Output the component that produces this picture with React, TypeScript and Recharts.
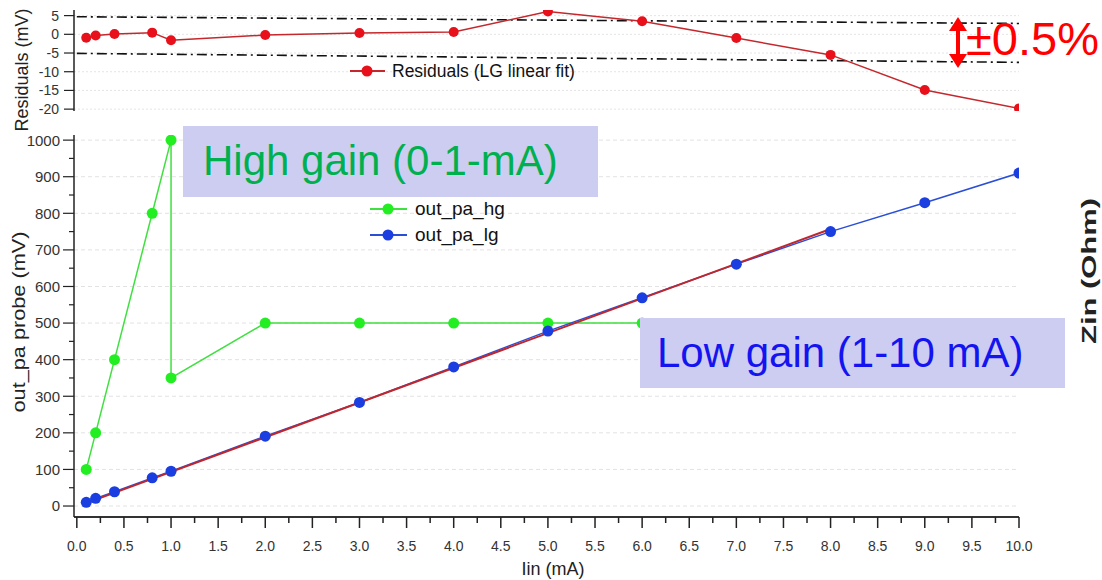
import React from 'react';
import { LineChart, Line, XAxis, YAxis, CartesianGrid, Legend } from 'recharts';

const W = 1102;
const H = 580;
const FONT = '"Liberation Sans", Arial, sans-serif';

// ---------- Residuals panel ----------
const resX = [0.1, 0.2, 0.4, 0.8, 1.0, 2.0, 3.0, 4.0, 5.0, 6.0, 7.0, 8.0, 9.0, 10.0];
const resY = [-0.9, -0.3, 0.1, 0.45, -1.6, -0.2, 0.35, 0.6, 6.1, 3.5, -1.0, -5.5, -14.9, -19.8];
const bandX = [0, 10];
const bandUpper = [4.7, 2.9];
const bandLower = [-5.1, -7.5];
const resTicks = [5, 0, -5, -10, -15, -20];

// ---------- Main panel ----------
const hgX = [0.1, 0.2, 0.4, 0.8, 1.0, 1.0, 2.0, 3.0, 4.0, 5.0, 6.0];
const hgY = [100, 200, 400, 800, 1000, 350, 500, 500, 500, 500, 500];
const lgX = [0.1, 0.2, 0.4, 0.8, 1.0, 2.0, 3.0, 4.0, 5.0, 6.0, 7.0, 8.0, 9.0, 10.0];
const lgY = [10, 21, 39, 77, 95, 191, 283, 380, 478, 569, 661, 750, 829, 910];
const fitX = [0.1, 8.0];
const fitY = [8, 757];

const xTicks = [0, 0.25, 0.5, 0.75, 1, 1.25, 1.5, 1.75, 2, 2.25, 2.5, 2.75, 3, 3.25, 3.5, 3.75, 4, 4.25, 4.5, 4.75, 5, 5.25, 5.5, 5.75, 6, 6.25, 6.5, 6.75, 7, 7.25, 7.5, 7.75, 8, 8.25, 8.5, 8.75, 9, 9.25, 9.5, 9.75, 10];
const yTicks = [0, 50, 100, 150, 200, 250, 300, 350, 400, 450, 500, 550, 600, 650, 700, 750, 800, 850, 900, 950, 1000];
const yGrid = [0, 100, 200, 300, 400, 500, 600, 700, 800, 900, 1000];

const zip = (xs: number[], ys: number[]) => xs.map((x, i) => ({ x, y: ys[i] }));

const resData = zip(resX, resY);
const upperData = zip(bandX, bandUpper);
const lowerData = zip(bandX, bandLower);
const hgData = zip(hgX, hgY);
const lgData = zip(lgX, lgY);
const fitData = zip(fitX, fitY);

const X_DOMAIN: [number, number] = [-0.03, 10];

const XTick = (props: any) => {
  const { x, y, payload } = props;
  const v = payload.value as number;
  const major = Math.abs(v * 2 - Math.round(v * 2)) < 1e-6;
  return (
    <g>
      <line x1={x} x2={x} y1={y} y2={y + (major ? 11 : 6)} stroke="#222" strokeWidth={1.5} />
      {major && (
        <text x={x} y={y + 34} textAnchor="middle" fontSize={14} fill="#333" fontFamily={FONT}>
          {v.toFixed(1)}
        </text>
      )}
    </g>
  );
};

const YTick = (props: any) => {
  const { x, y, payload } = props;
  const v = payload.value as number;
  const major = v % 100 === 0;
  return (
    <g>
      <line x1={x} x2={x - (major ? 11 : 5)} y1={y} y2={y} stroke="#222" strokeWidth={1.2} />
      {major && (
        <text x={x - 14} y={y} dy="0.36em" textAnchor="end" fontSize={15} fill="#333" fontFamily={FONT}>
          {v}
        </text>
      )}
    </g>
  );
};

const ResTick = (props: any) => {
  const { x, y, payload } = props;
  return (
    <g>
      <line x1={x} x2={x - 10} y1={y} y2={y} stroke="#222" strokeWidth={1.2} />
      <text x={x - 15} y={y} dy="0.36em" textAnchor="end" fontSize={14} fill="#333" fontFamily={FONT}>
        {payload.value}
      </text>
    </g>
  );
};

const makeLegend = (fontSize: number, rowH: number, iconW: number, gap: number, dotColors: Record<string, string>) =>
  (props: any) => {
    const items = (props.payload || []).filter((p: any) => p.type !== 'none');
    return (
      <div style={{ fontFamily: FONT, fontSize, color: '#111' }}>
        {items.map((p: any) => (
          <div key={p.value} style={{ display: 'flex', alignItems: 'center', height: rowH, whiteSpace: 'nowrap' }}>
            <svg width={iconW} height={14} style={{ display: 'block' }}>
              <line x1={2} x2={iconW - 1} y1={7} y2={7} stroke={p.color} strokeWidth={2} />
              <circle cx={iconW / 2} cy={7} r={5.5} fill={dotColors[p.value] || p.color} />
            </svg>
            <span style={{ marginLeft: gap }}>{p.value}</span>
          </div>
        ))}
      </div>
    );
  };

const ResLegend = makeLegend(17.5, 22, 38, 6, { 'Residuals (LG linear fit)': '#e8101a' });
const MainLegend = makeLegend(19, 26, 40, 7, { out_pa_hg: '#22ee22', out_pa_lg: '#1a3ee0' });

export default function App() {
  return (
    <div style={{ position: 'absolute', left: 0, top: 0, width: W, height: H, background: '#fff', overflow: 'hidden' }}>
      {/* Main panel */}
      <div style={{ position: 'absolute', left: 0, top: 0 }}>
        <LineChart width={W} height={H} margin={{ top: 135, right: 83, bottom: 0, left: 0 }}>
          <CartesianGrid vertical={false} horizontalValues={yGrid} stroke="#e2e2e2" strokeDasharray="4 3" />
          <XAxis
            type="number"
            dataKey="x"
            domain={X_DOMAIN}
            allowDataOverflow
            ticks={xTicks}
            interval={0}
            tickLine={false}
            tickSize={0}
            tickMargin={0}
            tick={(p: any) => <XTick {...p} />}
            axisLine={{ stroke: '#333', strokeWidth: 2 }}
            height={63}
          />
          <YAxis
            type="number"
            domain={[-30, 1014]}
            allowDataOverflow
            ticks={yTicks}
            interval={0}
            width={74}
            tickLine={false}
            tickSize={0}
            tickMargin={0}
            tick={(p: any) => <YTick {...p} />}
            axisLine={{ stroke: '#222', strokeWidth: 1.5 }}
          />
          <Legend
            layout="vertical"
            align="center"
            verticalAlign="middle"
            wrapperStyle={{ left: 368, top: 196, width: 'auto' }}
            content={MainLegend}
          />
          <Line
            data={hgData}
            dataKey="y"
            name="out_pa_hg"
            stroke="#3fe03f"
            strokeWidth={1.5}
            dot={{ r: 5.5, fill: '#22ee22', stroke: 'none' }}
            isAnimationActive={false}
          />
          <Line
            data={lgData}
            dataKey="y"
            name="out_pa_lg"
            stroke="#2a4fd6"
            strokeWidth={1.5}
            dot={false}
            isAnimationActive={false}
          />
          <Line
            data={fitData}
            dataKey="y"
            name="fit"
            legendType="none"
            stroke="#c0272d"
            strokeWidth={2}
            dot={false}
            isAnimationActive={false}
          />
          <Line
            data={lgData}
            dataKey="y"
            name="lg points"
            legendType="none"
            stroke="none"
            dot={{ r: 5.5, fill: '#1a3ee0', stroke: 'none' }}
            isAnimationActive={false}
          />
        </LineChart>
      </div>

      {/* Residuals panel */}
      <div style={{ position: 'absolute', left: 0, top: 0 }}>
        <LineChart width={W} height={120} margin={{ top: 10, right: 83, bottom: 9, left: 0 }}>
          <CartesianGrid vertical={false} horizontalValues={resTicks} stroke="#e4e4e4" strokeDasharray="2 2" />
          <XAxis type="number" dataKey="x" domain={X_DOMAIN} allowDataOverflow hide />
          <YAxis
            type="number"
            domain={[-20.5, 6.5]}
            allowDataOverflow
            ticks={resTicks}
            interval={0}
            width={74}
            tickLine={false}
            tickSize={0}
            tickMargin={0}
            tick={(p: any) => <ResTick {...p} />}
            axisLine={{ stroke: '#222', strokeWidth: 1.5 }}
          />
          <Legend
            layout="vertical"
            align="center"
            verticalAlign="middle"
            wrapperStyle={{ left: 348, top: 60, width: 'auto' }}
            content={ResLegend}
          />
          <Line
            data={upperData}
            dataKey="y"
            name="+0.5%"
            legendType="none"
            stroke="#111"
            strokeWidth={1.6}
            strokeDasharray="10 4 2 4"
            dot={false}
            isAnimationActive={false}
          />
          <Line
            data={lowerData}
            dataKey="y"
            name="-0.5%"
            legendType="none"
            stroke="#111"
            strokeWidth={1.6}
            strokeDasharray="10 4 2 4"
            dot={false}
            isAnimationActive={false}
          />
          <Line
            data={resData}
            dataKey="y"
            name="Residuals (LG linear fit)"
            stroke="#c4282c"
            strokeWidth={1.5}
            dot={{ r: 5, fill: '#e8101a', stroke: 'none' }}
            isAnimationActive={false}
          />
        </LineChart>
      </div>

      {/* Annotations */}
      <svg width={W} height={H} style={{ position: 'absolute', left: 0, top: 0, pointerEvents: 'none' }} fontFamily={FONT}>
        <rect x={183} y={126} width={415} height={71} fill="#cccdf0" />
        <text x={203} y={175} fontSize={42} fill="#00b04f">High gain (0-1-mA)</text>
        <rect x={640} y={318} width={425} height={70} fill="#cccdf0" />
        <text x={657} y={367} fontSize={42} fill="#1414f0">Low gain (1-10 mA)</text>

        <line x1={958} x2={958} y1={28} y2={57} stroke="#ff0000" strokeWidth={4} />
        <polygon points="958,17 949,31 967,31" fill="#ff0000" />
        <polygon points="958,68 949,54 967,54" fill="#ff0000" />
        <text x={966} y={55} fontSize={47} fill="#ff0000">±0.5%</text>

        <text transform="translate(1096,271) rotate(-90)" textAnchor="middle" fontSize={21} fontWeight="bold" fill="#222" textLength={146} lengthAdjust="spacingAndGlyphs">Zin (Ohm)</text>
        <text transform="translate(28,70) rotate(-90)" textAnchor="middle" fontSize={18} fill="#222">Residuals (mV)</text>
        <text transform="translate(25,322) rotate(-90)" textAnchor="middle" fontSize={19} fill="#222" textLength={181} lengthAdjust="spacingAndGlyphs">out_pa probe (mV)</text>
        <text x={553} y={575} textAnchor="middle" fontSize={18} fill="#222">Iin (mA)</text>
      </svg>
    </div>
  );
}
